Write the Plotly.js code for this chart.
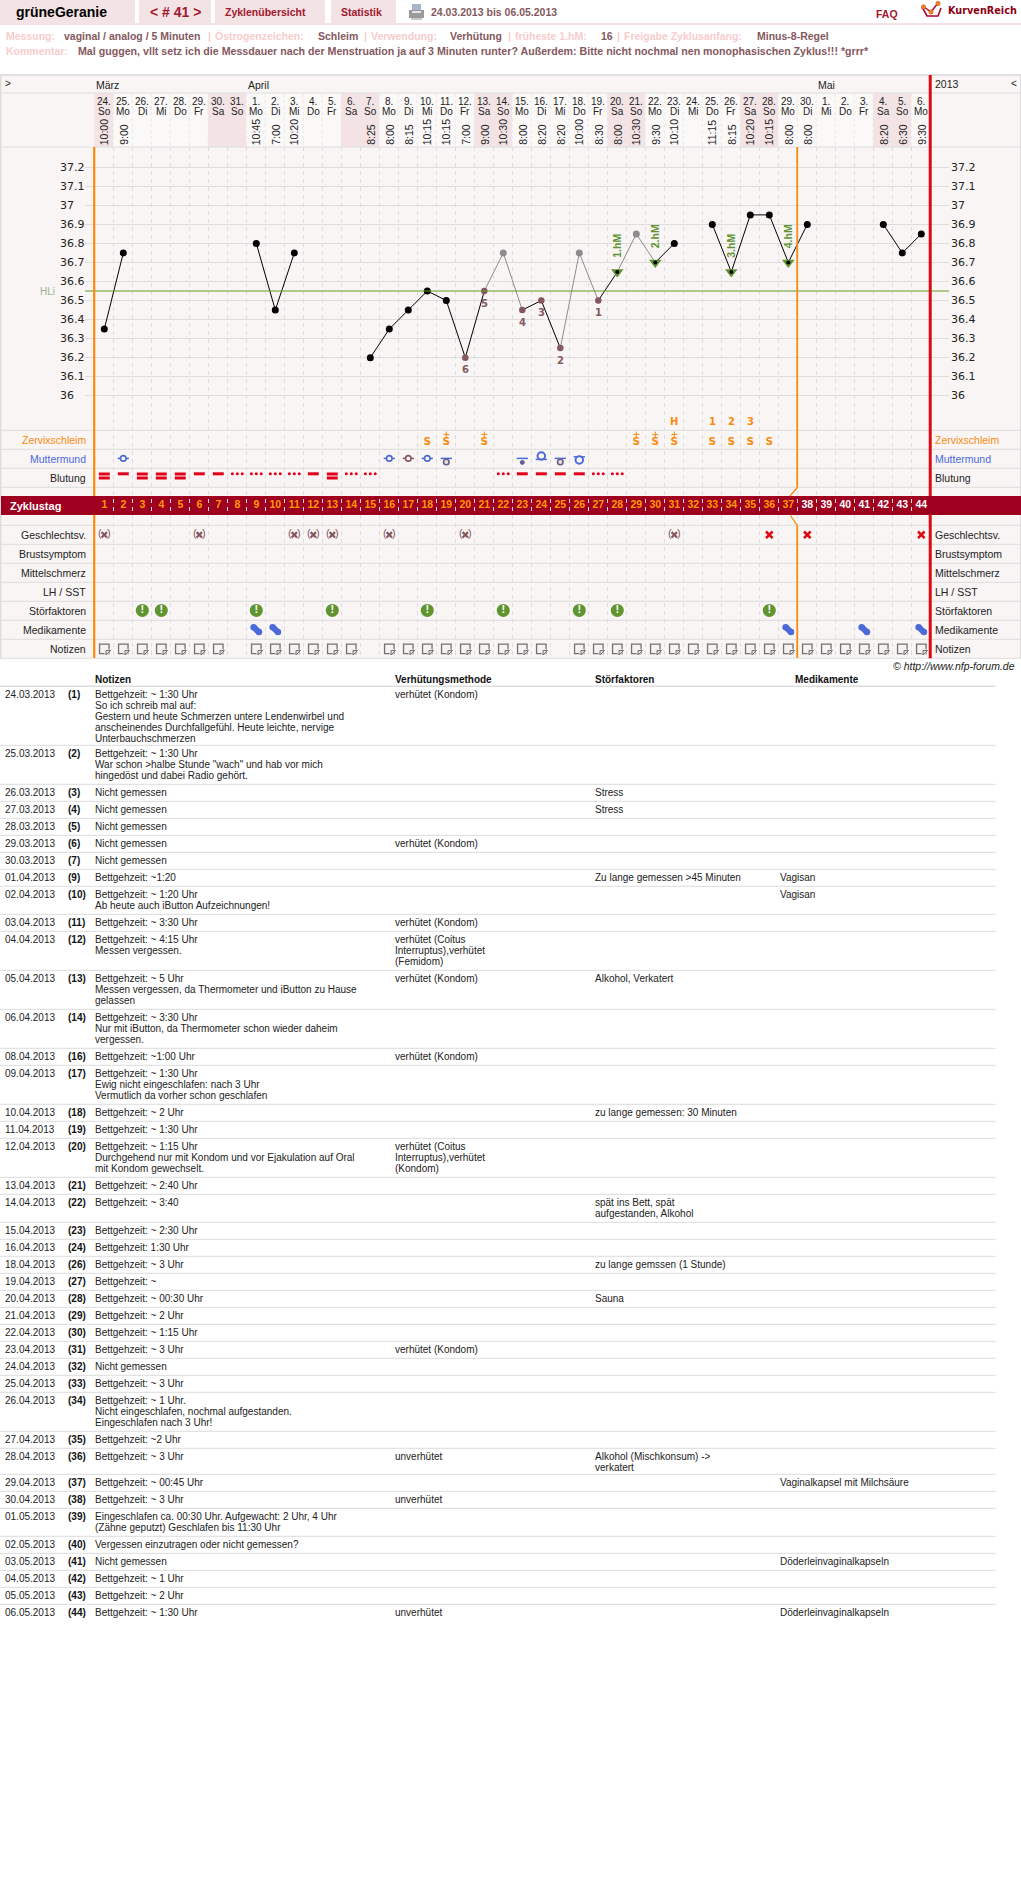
<!DOCTYPE html>
<html><head><meta charset="utf-8">
<script src="https://cdn.plot.ly/plotly-3.0.1.min.js"></script>
<style>html,body{margin:0;padding:0;background:#fff}#c{width:1021px;height:1894px}</style></head>
<body><div id="c"></div>
<script>
// ---------- chart data ----------
const dateLabels=['24.','25.','26.','27.','28.','29.','30.','31.','1.','2.','3.','4.','5.','6.','7.','8.','9.','10.','11.','12.','13.','14.','15.','16.','17.','18.','19.','20.','21.','22.','23.','24.','25.','26.','27.','28.','29.','30.','1.','2.','3.','4.','5.','6.'];
const weekdays=['So','Mo','Di','Mi','Do','Fr','Sa','So','Mo','Di','Mi','Do','Fr','Sa','So','Mo','Di','Mi','Do','Fr','Sa','So','Mo','Di','Mi','Do','Fr','Sa','So','Mo','Di','Mi','Do','Fr','Sa','So','Mo','Di','Mi','Do','Fr','Sa','So','Mo'];
const times=['10:00','9:00','','','','','','','10:45','7:00','10:20','','','','8:25','8:00','8:15','10:15','10:15','7:00','9:00','10:30','8:00','8:20','8:20','10:00','8:30','8:00','10:30','9:30','10:10','','11:15','8:15','10:20','10:15','8:00','8:00','','','','8:20','6:30','9:30'];
const temps=[36.35,36.75,null,null,null,null,null,null,36.8,36.45,36.75,null,null,null,36.2,36.35,36.45,36.55,36.5,36.2,36.55,36.75,36.45,36.5,36.25,36.75,36.5,36.65,36.85,36.7,36.8,null,36.9,36.65,36.95,36.95,36.7,36.9,null,null,null,36.9,36.75,36.85];
const excludedDays=[22,26,29];
const lowTempDays=[27,25,24,23,21,20];           // numbered 1..6
const peakDays=[28,30,34,37];                    // 1.hM .. 4.hM
const tempTicks=[36,36.1,36.2,36.3,36.4,36.5,36.6,36.7,36.8,36.9,37,37.1,37.2];
const coverline=36.55;
const months=[['März',1],['April',9],['Mai',39]];
const peakLetters=[['H',31],['1',33],['2',34],['3',35]];
const mucusPlain=[18,33,34,35,36];
const mucusPlus=[19,21,29,30,31];
const cervixBlue=[2,16,18];
const cervixBrown=[17];
const cervixLowBar=[19,25];
const cervixDot=[23];
const cervixHigh=[24];
const cervixBig=[26];
const bleedHeavy=[1,3,4,5,13];
const bleedMedium=[2,6,7,12,23,24,25,26];
const bleedLight=[8,9,10,11,14,15,22,27,28];
const sexProtected=[1,6,11,12,13,16,20,31];
const sexUnprotected=[36,38,44];
const disturbances=[3,4,9,13,18,22,26,28,36];
const medication=[9,10,37,41,44];
const rowLabels=['Zervixschleim','Muttermund','Blutung','Geschlechtsv.','Brustsymptom','Mittelschmerz','LH / SST','Störfaktoren','Medikamente','Notizen'];
const cycleEndInfertile=37.47;

const tableDates=['24.03.2013','25.03.2013','26.03.2013','27.03.2013','28.03.2013','29.03.2013','30.03.2013','01.04.2013','02.04.2013','03.04.2013','04.04.2013','05.04.2013','06.04.2013','08.04.2013','09.04.2013','10.04.2013','11.04.2013','12.04.2013','13.04.2013','14.04.2013','15.04.2013','16.04.2013','18.04.2013','19.04.2013','20.04.2013','21.04.2013','22.04.2013','23.04.2013','24.04.2013','25.04.2013','26.04.2013','27.04.2013','28.04.2013','29.04.2013','30.04.2013','01.05.2013','02.05.2013','03.05.2013','04.05.2013','05.05.2013','06.05.2013'];
const tableDays=[1,2,3,4,5,6,7,9,10,11,12,13,14,16,17,18,19,20,21,22,23,24,26,27,28,29,30,31,32,33,34,35,36,37,38,39,40,41,42,43,44];
const tableNotes=[
'Bettgehzeit: ~ 1:30 Uhr\nSo ich schreib mal auf:\nGestern und heute Schmerzen untere Lendenwirbel und\nanscheinendes Durchfallgefühl. Heute leichte, nervige\nUnterbauchschmerzen',
'Bettgehzeit: ~ 1:30 Uhr\nWar schon >halbe Stunde "wach" und hab vor mich\nhingedöst und dabei Radio gehört.',
'Nicht gemessen','Nicht gemessen','Nicht gemessen','Nicht gemessen','Nicht gemessen',
'Bettgehzeit: ~1:20',
'Bettgehzeit: ~ 1:20 Uhr\nAb heute auch iButton Aufzeichnungen!',
'Bettgehzeit: ~ 3:30 Uhr',
'Bettgehzeit: ~ 4:15 Uhr\nMessen vergessen.',
'Bettgehzeit: ~ 5 Uhr\nMessen vergessen, da Thermometer und iButton zu Hause\ngelassen',
'Bettgehzeit: ~ 3:30 Uhr\nNur mit iButton, da Thermometer schon wieder daheim\nvergessen.',
'Bettgehzeit: ~1:00 Uhr',
'Bettgehzeit: ~ 1:30 Uhr\nEwig nicht eingeschlafen: nach 3 Uhr\nVermutlich da vorher schon geschlafen',
'Bettgehzeit: ~ 2 Uhr',
'Bettgehzeit: ~ 1:30 Uhr',
'Bettgehzeit: ~ 1:15 Uhr\nDurchgehend nur mit Kondom und vor Ejakulation auf Oral\nmit Kondom gewechselt.',
'Bettgehzeit: ~ 2:40 Uhr',
'Bettgehzeit: ~ 3:40',
'Bettgehzeit: ~ 2:30 Uhr',
'Bettgehzeit: 1:30 Uhr',
'Bettgehzeit: ~ 3 Uhr',
'Bettgehzeit: ~',
'Bettgehzeit: ~ 00:30 Uhr',
'Bettgehzeit: ~ 2 Uhr',
'Bettgehzeit: ~ 1:15 Uhr',
'Bettgehzeit: ~ 3 Uhr',
'Nicht gemessen',
'Bettgehzeit: ~ 3 Uhr',
'Bettgehzeit: ~ 1 Uhr.\nNicht eingeschlafen, nochmal aufgestanden.\nEingeschlafen nach 3 Uhr!',
'Bettgehzeit: ~2 Uhr',
'Bettgehzeit: ~ 3 Uhr',
'Bettgehzeit: ~ 00:45 Uhr',
'Bettgehzeit: ~ 3 Uhr',
'Eingeschlafen ca. 00:30 Uhr. Aufgewacht: 2 Uhr, 4 Uhr\n(Zähne geputzt) Geschlafen bis 11:30 Uhr',
'Vergessen einzutragen oder nicht gemessen?',
'Nicht gemessen',
'Bettgehzeit: ~ 1 Uhr',
'Bettgehzeit: ~ 2 Uhr',
'Bettgehzeit: ~ 1:30 Uhr'];
const tableMethods={1:'verhütet (Kondom)',6:'verhütet (Kondom)',11:'verhütet (Kondom)',12:'verhütet (Coitus\nInterruptus),verhütet\n(Femidom)',13:'verhütet (Kondom)',16:'verhütet (Kondom)',20:'verhütet (Coitus\nInterruptus),verhütet\n(Kondom)',31:'verhütet (Kondom)',36:'unverhütet',38:'unverhütet',44:'unverhütet'};
const tableFactors={3:'Stress',4:'Stress',9:'Zu lange gemessen >45 Minuten',13:'Alkohol, Verkatert',18:'zu lange gemessen: 30 Minuten',22:'spät ins Bett, spät\naufgestanden, Alkohol',26:'zu lange gemssen (1 Stunde)',28:'Sauna',36:'Alkohol (Mischkonsum) ->\nverkatert'};
const tableMeds={9:'Vagisan',10:'Vagisan',37:'Vaginalkapsel mit Milchsäure',41:'Döderleinvaginalkapseln',44:'Döderleinvaginalkapseln'};

// ---------- style and layout constants ----------
const W=1021,H=1894,X0=104.3,DX=19;
const SANS='"Liberation Sans",Arial,sans-serif',DEJA='"DejaVu Sans",sans-serif';
const PANEL='#f9f5f5',GRID='#dddddd',ROSE='#f3e3e5',BAND='#a0001f',ORANGE='#fb8a0e',RED='#dd0a14',GREEN='#5f9430',BLUE='#4a6ad8',BROWN='#85585e',PALE='#f8cccc',DARKRED='#a3172e';
const dayAt=p=>1+(p-X0)/DX, tempAt=p=>36+(395.7-p)/190.33;
const fx=p=>p/W, fy=p=>1-p/H;
const ROW={zerv:439.8,mutter:458.4,blut:477.8,band:505.5,geschl:534.8,stoer:610.4,med:629.7,note:648.8,peak:421};
const rowCenters=[439.8,458.8,477.8,534.8,553.8,572.8,591.8,610.8,629.8,648.8];
const days=dateLabels.map((_,i)=>i+1);

const ann=[],shapes=[],traces=[];
function txt(t,x,y,o={}){ann.push(Object.assign({text:t,x:fx(x),y:fy(y),xref:'paper',yref:'paper',xanchor:'left',yanchor:'middle',showarrow:false,borderpad:0,borderwidth:0},o.raw||{},{font:{family:o.family||SANS,size:o.size||10,color:o.color||'#222'}}));}
function rect(x0,y0,x1,y1,fill,layer){shapes.push({type:'rect',xref:'paper',yref:'paper',x0:fx(x0),x1:fx(x1),y0:fy(y0),y1:fy(y1),fillcolor:fill,line:{width:0},layer:layer||'below'});}
function hline(y,x0,x1,c,w){shapes.push({type:'line',xref:'paper',yref:'paper',x0:fx(x0),x1:fx(x1),y0:fy(y),y1:fy(y),line:{color:c||GRID,width:w||1},layer:'below'});}
function vseg(d,y0,y1,c,w){shapes.push({type:'line',xref:'x',yref:'paper',x0:d,x1:d,y0:fy(y0),y1:fy(y1),line:{color:c,width:w},layer:'above'});}
function seg(d0,y0,d1,y1,c,w){shapes.push({type:'line',xref:'x',yref:'paper',x0:d0,x1:d1,y0:fy(y0),y1:fy(y1),line:{color:c,width:w},layer:'above'});}
function mark(x,y,marker,extra){traces.push(Object.assign({type:'scatter',mode:'markers',x,y,yaxis:'y2',marker,hoverinfo:'skip',cliponaxis:false,showlegend:false},extra||{}));}
function label(x,y,text,font,extra){traces.push(Object.assign({type:'scatter',mode:'text',x,y,yaxis:'y2',text,textposition:'middle center',textfont:font,hoverinfo:'skip',cliponaxis:false,showlegend:false},extra||{}));}
const rep=(a,v)=>a.map(()=>v);

// ---------- top bar ----------
rect(0,0,135,23,ROSE);rect(139,0,211,23,ROSE);rect(215,0,325,23,ROSE);rect(331,0,396,23,ROSE);rect(0,23,W,25,ROSE);
txt('<b>grüneGeranie</b>',16,12.5,{size:14,color:'#000'});
txt('<b>&lt; # 41 &gt;</b>',175,12.5,{size:14,color:DARKRED,raw:{xanchor:'center'}});
txt('<b>Zyklenübersicht</b>',225,12.5,{size:10.5,color:DARKRED});
txt('<b>Statistik</b>',341,12.5,{size:10.5,color:DARKRED});
txt('<b>24.03.2013 bis 06.05.2013</b>',431,12.5,{size:10.5,color:BROWN});
txt('<b>FAQ</b>',876,14,{size:10.5,color:DARKRED});
txt('<b>KurvenReich</b>',948,10.5,{size:9.7,color:'#8c0014',family:DEJA});
// printer icon
rect(412,4,421,10,'#a9b4c9');rect(409,10,424,18,'#9a9a9a');rect(411,18,422,20,'#c6c6c6');rect(412,11,421,13,'#e3e3e3');
// logo
shapes.push({type:'path',xref:'paper',yref:'paper',path:`M ${fx(922)} ${fy(7)} L ${fx(927)} ${fy(16)} L ${fx(938)} ${fy(16)} L ${fx(941)} ${fy(8)}`,line:{color:'#b00030',width:1.6},layer:'below'});
shapes.push({type:'path',xref:'paper',yref:'paper',path:`M ${fx(924)} ${fy(7)} L ${fx(931)} ${fy(12)} L ${fx(938)} ${fy(3)}`,line:{color:'#b00030',width:1.4},layer:'below'});
[[923.5,7],[931,12],[938,3.5]].forEach(p=>shapes.push({type:'circle',xref:'paper',yref:'paper',x0:fx(p[0]-2.2),x1:fx(p[0]+2.2),y0:fy(p[1]-2.2),y1:fy(p[1]+2.2),fillcolor:'#f08a1e',line:{color:'#c04020',width:.5},layer:'below'}));

// info lines
const P=(t,x,y)=>txt('<b>'+t+'</b>',x,y,{size:10.5,color:PALE}), V=(t,x,y,s)=>txt('<b>'+t+'</b>',x,y,{size:s||10.5,color:BROWN});
P('Messung:',6,36);V('vaginal / analog / 5 Minuten',64,36);P('|',208,36);
P('Östrogenzeichen:',215,36);V('Schleim',318,36);P('|',364,36);
P('Verwendung:',371,36);V('Verhütung',450,36);P('|',508,36);
P('früheste 1.hM:',515,36);V('16',601,36);P('|',617,36);
P('Freigabe Zyklusanfang:',624,36);V('Minus-8-Regel',757,36);
P('Kommentar:',6,51);
V('Mal guggen, vllt setz ich die Messdauer nach der Menstruation ja auf 3 Minuten runter? Außerdem: Bitte nicht nochmal nen monophasischen Zyklus!!! *grrr*',78,51,10.65);

// ---------- panel ----------
rect(0,75,W,658.3,PANEL);
days.forEach((d,i)=>{ const we=weekdays[i]==='Sa'||weekdays[i]==='So'; shapes.push({type:'rect',xref:'x',yref:'paper',x0:d-.53,x1:d+.47,y0:fy(93),y1:fy(147),fillcolor:we?ROSE:'#fbf8f8',line:{width:0},layer:'below'}); });
days.slice(0,-1).forEach(d=>shapes.push({type:'line',xref:'x',yref:'paper',x0:d+.47,x1:d+.47,y0:fy(94),y1:fy(147),line:{color:'#eee6e6',width:1,dash:'3px,3px'},layer:'below'}));
[75,93,147,430.3,449.3,468.3,487.3,525.3,544.3,563.3,582.3,601.3,620.3,639.3,658.3].forEach(y=>hline(y,0,W,GRID,1));
hline(75,0,W,GRID,1.5);
shapes.push({type:'line',xref:'paper',yref:'paper',x0:fx(.7),x1:fx(.7),y0:fy(75),y1:fy(658),line:{color:GRID,width:1.5},layer:'below'});
shapes.push({type:'line',xref:'paper',yref:'paper',x0:fx(1020.5),x1:fx(1020.5),y0:fy(75),y1:fy(658),line:{color:GRID,width:1},layer:'below'});
rect(1,496,W,515,BAND);
shapes.push({type:'line',xref:'paper',yref:'y',x0:fx(85),x1:fx(949),y0:coverline,y1:coverline,line:{color:'#659a22',width:1},layer:'above'});
// cycle lines
vseg(.47,147,496,ORANGE,2.2);vseg(.47,515,658,ORANGE,2.2);
vseg(44.47,75,496,RED,3);vseg(44.47,515,658.3,RED,3);
vseg(cycleEndInfertile,147,487.7,ORANGE,1.8);seg(cycleEndInfertile,487.7,cycleEndInfertile-.39,496,ORANGE,1.3);
seg(cycleEndInfertile-.36,515.5,cycleEndInfertile,525.3,ORANGE,1.3);vseg(cycleEndInfertile,525.3,658,ORANGE,1.8);

// header texts
txt('&gt;',5,83,{size:10,color:'#222'});txt('&lt;',1010.5,83,{size:10,color:'#222'});txt('2013',935,84.5,{size:10.5});
months.forEach(m=>ann.push({text:m[0],x:m[1]-.44,y:fy(85),xref:'x',yref:'paper',xanchor:'left',yanchor:'middle',showarrow:false,borderpad:0,borderwidth:0,font:{family:SANS,size:10.5,color:'#222'}}));
const hdrAnn=(t,d,y,extra)=>ann.push(Object.assign({text:t,x:d,y:fy(y),xref:'x',yref:'paper',xanchor:'center',yanchor:'middle',showarrow:false,borderpad:0,borderwidth:0,font:{family:SANS,size:10,color:'#222'}},extra||{}));
days.forEach((d,i)=>{hdrAnn(dateLabels[i],d,101.5);hdrAnn(weekdays[i],d,111.5);
 if(times[i]) hdrAnn(times[i],d,145,{textangle:-90,yanchor:'bottom',font:{family:SANS,size:10.5,color:'#222'}});});

// y labels (on the temperature scale)
tempTicks.forEach(v=>{[60,950.7].forEach(px=>ann.push({text:String(v),x:fx(px),y:v,xref:'paper',yref:'y',xanchor:'left',yanchor:'middle',showarrow:false,borderpad:0,borderwidth:0,font:{family:DEJA,size:11,color:'#222'}}));});
ann.push({text:'HLi',x:fx(40),y:coverline,xref:'paper',yref:'y',xanchor:'left',yanchor:'middle',showarrow:false,borderpad:0,borderwidth:0,font:{family:SANS,size:10,color:'#9db08e'}});

// row labels
const rowColor={Zervixschleim:ORANGE,Muttermund:BLUE};
rowLabels.forEach((t,i)=>{txt(t,85.5,rowCenters[i],{size:10.5,color:rowColor[t]||'#222',raw:{xanchor:'right'}});txt(t,935,rowCenters[i],{size:10.5,color:rowColor[t]||'#222'});});
txt('<b>Zyklustag</b>',10,ROW.band,{size:11,color:'#fff'});
txt('<i>© http://www.nfp-forum.de</i>',893,666,{size:10.5,color:'#222'});

// ---------- temperature curve ----------
const greySegments=(a,b)=>excludedDays.includes(a)||excludedDays.includes(b);
const lineX={black:[],grey:[]},lineY={black:[],grey:[]};
temps.forEach((v,i)=>{ if(i+1<temps.length&&v!==null&&temps[i+1]!==null){const k=greySegments(i+1,i+2)?'grey':'black';lineX[k].push(i+1,i+2,null);lineY[k].push(v,temps[i+1],null);} });
[['grey','#8c8c8c'],['black','#000']].forEach(([k,c])=>traces.push({type:'scatter',mode:'lines',x:lineX[k],y:lineY[k],line:{color:c,width:1},connectgaps:false,hoverinfo:'skip',showlegend:false}));
const tempOf=d=>temps[d-1];
// peak triangles
traces.push({type:'scatter',mode:'markers',x:peakDays,y:peakDays.map(tempOf),marker:{symbol:'triangle-down',size:11,color:GREEN},hoverinfo:'skip',showlegend:false});
const plainDays=days.filter(d=>tempOf(d)!==null&&!excludedDays.includes(d)&&!lowTempDays.includes(d)&&!peakDays.includes(d));
traces.push({type:'scatter',mode:'markers',x:plainDays,y:plainDays.map(tempOf),marker:{symbol:'circle',size:7,color:'#000'},hoverinfo:'skip',showlegend:false});
traces.push({type:'scatter',mode:'markers',x:peakDays,y:peakDays.map(tempOf),marker:{symbol:'circle',size:4,color:'#000'},hoverinfo:'skip',showlegend:false});
traces.push({type:'scatter',mode:'markers',x:excludedDays,y:excludedDays.map(tempOf),marker:{symbol:'circle',size:7,color:'#8c8c8c'},hoverinfo:'skip',showlegend:false});
traces.push({type:'scatter',mode:'markers',x:lowTempDays,y:lowTempDays.map(tempOf),marker:{symbol:'circle',size:6.5,color:BROWN},hoverinfo:'skip',showlegend:false});
lowTempDays.forEach((d,i)=>ann.push({text:'<b>'+(i+1)+'</b>',x:d,y:tempOf(d),xref:'x',yref:'y',yshift:-12,xanchor:'center',yanchor:'middle',showarrow:false,borderpad:0,borderwidth:0,font:{family:DEJA,size:10,color:BROWN}}));
peakDays.forEach((d,i)=>ann.push({text:'<b>'+(i+1)+'.hM</b>',x:d,y:tempOf(d),xref:'x',yref:'y',yshift:14.5,textangle:-90,xanchor:'center',yanchor:'bottom',showarrow:false,borderpad:0,borderwidth:0,font:{family:SANS,size:10.5,color:GREEN}}));

// ---------- symptom rows ----------
peakLetters.forEach(p=>ann.push({text:'<b>'+p[0]+'</b>',x:p[1],y:ROW.peak,yref:'y2',xref:'x',xanchor:'center',yanchor:'middle',showarrow:false,borderpad:0,borderwidth:0,font:{family:DEJA,size:10,color:ORANGE}}));
const sFont={family:DEJA,size:10.5,color:ORANGE,weight:'bold'};
const allS=mucusPlain.concat(mucusPlus);
label(allS,rep(allS,ROW.zerv+2.4),rep(allS,'S'),sFont);
mark(mucusPlus,rep(mucusPlus,ROW.zerv-5.2),{symbol:'cross-thin-open',size:4.3,color:ORANGE,line:{color:ORANGE,width:1}});
// cervix
const bar=(ds,y,c,s)=>mark(ds,rep(ds,y),{symbol:'line-ew',size:s||8,line:{color:c,width:1.5}});
const ring=(ds,y,s,fill,c,w)=>mark(ds,rep(ds,y),{symbol:'circle',size:s,color:fill,line:{color:c,width:w||1.6}});
const MIX='#66608a';
bar(cervixBlue,ROW.mutter,BLUE);ring(cervixBlue,ROW.mutter,5.5,PANEL,BLUE);
bar(cervixBrown,ROW.mutter,BROWN);ring(cervixBrown,ROW.mutter,5.5,PANEL,BROWN);
bar(cervixLowBar,ROW.mutter,BLUE);ring(cervixLowBar,ROW.mutter+3.6,5.5,'#e8dede',MIX);
bar(cervixDot,ROW.mutter,BLUE);ring(cervixDot,ROW.mutter+4,4,BROWN,BLUE,1);
ring(cervixHigh,ROW.mutter-2.4,7.5,PANEL,BLUE,2);bar(cervixHigh,ROW.mutter+1,BLUE);
bar(cervixBig,ROW.mutter-1.6,BLUE);ring(cervixBig,ROW.mutter+1.6,7.5,PANEL,BLUE,2);
// bleeding
const bleedMark={symbol:'line-ew',size:7.8,line:{color:'#e0001a',width:3}};
mark(bleedHeavy,rep(bleedHeavy,ROW.blut-3.8),bleedMark);mark(bleedHeavy,rep(bleedHeavy,ROW.blut+.2),bleedMark);
mark(bleedMedium,rep(bleedMedium,ROW.blut-4),bleedMark);
const spotX=[];bleedLight.forEach(d=>spotX.push(d-.26,d,d+.26));
mark(spotX,rep(spotX,ROW.blut-4),{symbol:'circle',size:3,color:'#e0001a'});
// band numbers
label(days,rep(days,ROW.band),days.map(String),{family:SANS,size:10.5,weight:'bold',color:days.map(d=>d<=37?'#ff9a00':'#ffffff')});
// intercourse
mark(sexProtected,rep(sexProtected,ROW.geschl),{symbol:'x-thin-open',size:5.4,color:BROWN,line:{color:BROWN,width:2.2}});
label(sexProtected,rep(sexProtected,ROW.geschl-.3),rep(sexProtected,'(\u2002)'),{family:SANS,size:11,color:BROWN});
mark(sexUnprotected,rep(sexUnprotected,ROW.geschl),{symbol:'x-thin-open',size:6.6,color:RED,line:{color:RED,width:2.6}});
// disturbances
mark(disturbances,rep(disturbances,ROW.stoer),{symbol:'circle',size:13,color:GREEN});
label(disturbances,rep(disturbances,ROW.stoer),rep(disturbances,'!'),{family:SANS,size:11,weight:'bold',color:'#fff'});
// medication
const medX=[];const medY=[];medication.forEach(d=>{medX.push(d-.14,d+.14);medY.push(ROW.med-2.4,ROW.med+2.4);});
mark(medX,medY,{symbol:'circle',size:6.5,color:BLUE});
mark(medication,rep(medication,ROW.med),{symbol:'line-nw',size:4,line:{color:BLUE,width:6}});
// note icons: one for every day with a table row
mark(tableDays,rep(tableDays,ROW.note),{symbol:'square',size:9.5,color:'#f4f2f2',line:{color:'#747070',width:1.3}});
const off=tableDays.map(d=>d+.17);
mark(off,rep(off,ROW.note+3.2),{symbol:'triangle-se',size:6,color:PANEL});
mark(off,rep(off,ROW.note+3.2),{symbol:'triangle-nw',size:5,color:'#e8e4e4',line:{color:'#747070',width:1}});

// ---------- notes table ----------
[['Notizen',95],['Verhütungsmethode',395],['Störfaktoren',595],['Medikamente',795]].forEach(h=>txt('<b>'+h[0]+'</b>',h[1],679.3,{size:10,color:'#111'}));
hline(686.3,0,995.5,GRID,1.5);
const LH=11,COL={date:5,num:68,note:95,meth:395,fact:595,med:780},tightRows=[1,36];
let rowTop=686.3;
tableDates.forEach((date,i)=>{
 const d=tableDays[i];
 const noteL=tableNotes[i].split('\n'),methL=(tableMethods[d]||'').split('\n'),factL=(tableFactors[d]||'').split('\n'),medL=(tableMeds[d]||'').split('\n');
 const n=Math.max(noteL.length,methL.length,factL.length,medL.length);
 const y=rowTop+8;
 txt(date,COL.date,y,{size:10,color:'#222'});
 txt('<b>('+d+')</b>',COL.num,y,{size:10,color:'#111'});
 [[noteL,COL.note],[methL,COL.meth],[factL,COL.fact],[medL,COL.med]].forEach(([L,x])=>L.forEach((t,k)=>{if(t) txt(t,x,y+k*LH,{size:10,color:'#222'});}));
 rowTop+=6+n*LH-(tightRows.includes(d)?2:0);
 if(i<tableDates.length-1) hline(rowTop,0,995.5,GRID,1);
});

// ---------- layout ----------
const layout={width:W,height:H,margin:{l:0,r:0,t:0,b:0},paper_bgcolor:'#ffffff',plot_bgcolor:'rgba(0,0,0,0)',showlegend:false,hovermode:false,
 font:{family:SANS,size:10,color:'#222'},
 xaxis:{domain:[fx(85),fx(949)],range:[dayAt(85),dayAt(949)],tickmode:'array',tickvals:days.slice(0,-1).map(d=>d+.47),showticklabels:false,ticks:'',showgrid:true,gridcolor:GRID,gridwidth:1,griddash:'4px,4px',zeroline:false,showline:false,fixedrange:true},
 yaxis:{domain:[fy(658.3),fy(147)],range:[tempAt(658.3),tempAt(147)],tickmode:'array',tickvals:tempTicks,showticklabels:false,ticks:'',showgrid:true,gridcolor:GRID,gridwidth:1,zeroline:false,showline:false,fixedrange:true},
 yaxis2:{domain:[fy(658.3),fy(147)],overlaying:'y',range:[658.3,147],visible:false,showgrid:false,zeroline:false,fixedrange:true},
 annotations:ann,shapes:shapes};
Plotly.newPlot('c',traces,layout,{displayModeBar:false,responsive:false,staticPlot:true});
</script></body></html>
